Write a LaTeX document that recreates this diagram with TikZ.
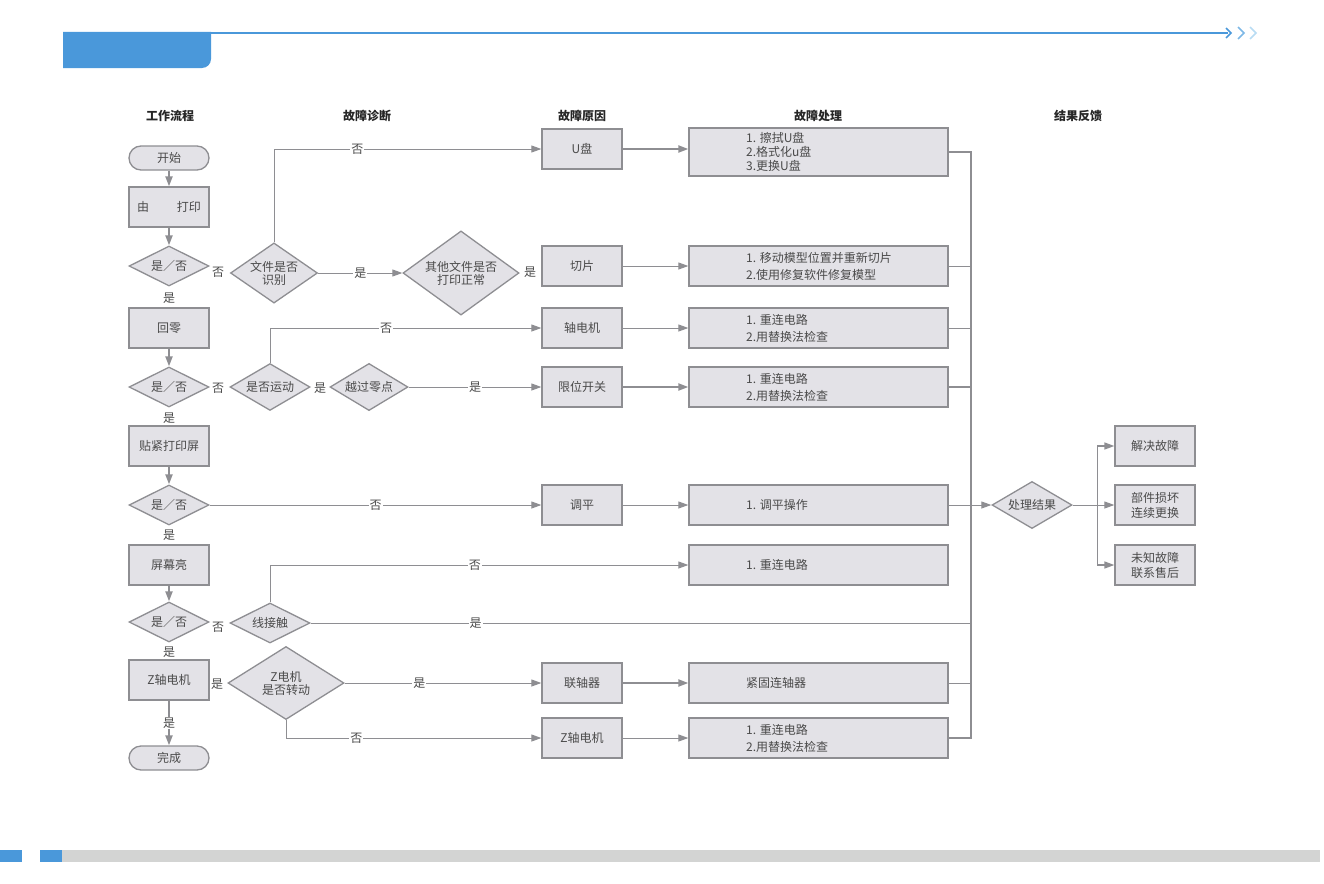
\documentclass[tikz,border=0pt]{standalone}
\usepackage{fontspec}
\setmainfont{Noto Sans CJK SC}
\usetikzlibrary{shapes.geometric,arrows.meta}
\definecolor{bfill}{HTML}{E3E2E7}
\definecolor{bdraw}{HTML}{8E8E92}
\definecolor{txt}{HTML}{4A4A4A}
\definecolor{blueA}{HTML}{4A98DA}
\definecolor{blueB}{HTML}{7DB8E6}
\definecolor{blueC}{HTML}{B8DCF3}
\definecolor{footgray}{HTML}{D3D4D3}
\begin{document}
\begin{tikzpicture}[x=1pt,y=-1pt, font=\fontsize{12}{14}\selectfont, text=txt,
 box/.style={draw=bdraw, fill=bfill, line width=1.3pt, minimum width=80pt, minimum height=40pt, inner sep=0pt},
 term/.style={box, rounded corners=12pt, minimum height=24pt},
 dia/.style={diamond, draw=bdraw, fill=bfill, line width=1.3pt, inner sep=-3pt, align=center, font=\fontsize{12}{13}\selectfont},
 hbox/.style={box, minimum width=259pt},
 htext/.style={anchor=west, align=left, inner sep=0pt},
 conn/.style={draw=bdraw, line width=1pt},
 thk/.style={draw=bdraw, line width=2pt},
 arr/.style={conn, -{Triangle[length=10pt,width=7pt]}},
 arrt/.style={thk, -{Triangle[length=10pt,width=7pt]}},
 lbl/.style={fill=white, inner sep=1pt},
 hdr/.style={font=\bfseries\fontsize{12}{14}\selectfont, text=black!85}
]
\useasboundingbox (0,0) rectangle (1324,883);
% header
\fill[blueA] (63,32) -- (211,32) [rounded corners=9pt] -- (211,68) [sharp corners] -- (63,68) -- cycle;
\draw[blueA, line width=2.2pt] (63,33) -- (1228,33);
\draw[blueA, line width=1.5pt] (1226,28) -- (1231,33) -- (1226,38);
\draw[blueB, line width=1.5pt] (1238,27) -- (1244,33) -- (1238,39);
\draw[blueC, line width=1.5pt] (1250,27) -- (1256,33) -- (1250,39);
% footer
\fill[blueA] (0,850) rectangle (22,862);
\fill[footgray] (40,850) rectangle (1320,862);
\fill[blueA] (40,850) rectangle (62,862);
% column headers
\node[hdr] (hA) at (170,116) {工作流程};
\node[hdr] (hB) at (367,116) {故障诊断};
\node[hdr] (hC) at (582,116) {故障原因};
\node[hdr] (hD) at (818,116) {故障处理};
\node[hdr] (hE) at (1078,116) {结果反馈};
% work flow
\node[term] (start) at (169,158) {开始};
\node[box] (s1) at (169,207) {由\hspace{28pt}打印};
\node[dia, minimum width=80pt, minimum height=40pt] (d1) at (169,266) {是／否};
\node (y1) at (169,298) {是};
\node[box] (s2) at (169,328) {回零};
\node[dia, minimum width=80pt, minimum height=40pt] (d2) at (169,387) {是／否};
\node (y2) at (169,418) {是};
\node[box] (s3) at (169,446) {贴紧打印屏};
\node[dia, minimum width=80pt, minimum height=40pt] (d3) at (169,505) {是／否};
\node (y3) at (169,535) {是};
\node[box] (s4) at (169,565) {屏幕亮};
\node[dia, minimum width=80pt, minimum height=40pt] (d4) at (169,622) {是／否};
\node (y4) at (169,652) {是};
\node[box] (s5) at (169,680) {Z轴电机};
\node[term] (end) at (169,758) {完成};
\draw[arrt] (start) -- (s1);
\draw[arrt] (s1) -- (d1);
\draw[arrt] (s2) -- (d2);
\draw[arrt] (s3) -- (d3);
\draw[arrt] (s4) -- (d4);
\draw[arrt] (s5) -- node[lbl]{是} (end);
% diagnosis
\node (n1) at (218,272) {否};
\node[dia, minimum width=87pt, minimum height=54pt] (f1) at (274,273) {文件是否\\识别};
\node[dia, minimum width=116pt, minimum height=74pt] (f2) at (461,273) {其他文件是否\\打印正常};
\node (y5) at (530,272) {是};
\node (n2) at (218,388) {否};
\node[dia, minimum width=80pt, minimum height=40pt] (m1) at (270,387) {是否运动};
\node (y6) at (320,388) {是};
\node[dia, minimum width=78pt, minimum height=41pt] (m2) at (369,387) {越过零点};
\node (n3) at (218,627) {否};
\node[dia, minimum width=80pt, minimum height=40pt] (w1) at (270,623) {线接触};
\node (y7) at (217,684) {是};
\node[dia, minimum width=116pt, minimum height=73pt] (z1) at (286,683) {Z电机\\是否转动};
% causes
\node[box] (c1) at (582,149) {U盘};
\node[box] (c2) at (582,266) {切片};
\node[box] (c3) at (582,328) {轴电机};
\node[box] (c4) at (582,387) {限位开关};
\node[box] (c5) at (582,505) {调平};
\node[box] (c6) at (582,683) {联轴器};
\node[box] (c7) at (582,738) {Z轴电机};
% handling
\node[hbox, minimum height=48pt] (h1) at (818.5,152) {};
\node[htext, font=\fontsize{12}{14}\selectfont] (t1) at (746,152) {1. 擦拭U盘\\2.格式化u盘\\3.更换U盘};
\node[hbox] (h2) at (818.5,266) {};
\node[htext, font=\fontsize{12}{17}\selectfont] (t2) at (746,266) {1. 移动模型位置并重新切片\\2.使用修复软件修复模型};
\node[hbox] (h3) at (818.5,328) {};
\node[htext, font=\fontsize{12}{17}\selectfont] (t3) at (746,328) {1. 重连电路\\2.用替换法检查};
\node[hbox] (h4) at (818.5,387) {};
\node[htext, font=\fontsize{12}{17}\selectfont] (t4) at (746,387) {1. 重连电路\\2.用替换法检查};
\node[hbox] (h5) at (818.5,505) {};
\node[htext] (t5) at (746,505) {1. 调平操作};
\node[hbox] (h6) at (818.5,565) {};
\node[htext] (t6) at (746,565) {1. 重连电路};
\node[hbox] (h7) at (818.5,683) {};
\node[htext] (t7) at (746,683) {紧固连轴器};
\node[hbox] (h8) at (818.5,738) {};
\node[htext, font=\fontsize{12}{17}\selectfont] (t8) at (746,738) {1. 重连电路\\2.用替换法检查};
% result
\node[dia, minimum width=80pt, minimum height=40pt] (r0) at (1032,505) {处理结果};
\node[box] (r1) at (1155,446) {解决故障};
\node[box, align=center, font=\fontsize{12}{15}\selectfont] (r2) at (1155,505) {部件损坏\\连续更换};
\node[box, align=center, font=\fontsize{12}{15}\selectfont] (r3) at (1155,565) {未知故障\\联系售后};
\coordinate (ct) at (971,152);
% diagnosis connectors
\draw[arr] (f1.north) |- node[lbl, pos=0.656]{否} (c1.west);
\draw[arr] (f1.east) -- node[lbl]{是} (f2.west);
\draw[arr] (m1.north) |- node[lbl, pos=0.714]{否} (c3.west);
\draw[arr] (m2.east) -- node[lbl]{是} (c4.west);
\draw[arr] (d3.east) -- node[lbl]{否} (c5.west);
\draw[arr] (w1.north) |- node[lbl, pos=0.745]{否} (h6.west);
\draw[conn] (w1.east) -- node[lbl, pos=0.25]{是} (w1.east -| ct);
\draw[arr] (z1.east) -- node[lbl, pos=0.38]{是} (c6.west);
\draw[arr] (z1.south) |- node[lbl, pos=0.638]{否} (c7.west);
% cause -> handling
\draw[arrt] (c1.east) -- (c1.east -| h1.west);
\draw[arr] (c2) -- (h2);
\draw[arr] (c3) -- (h3);
\draw[arrt] (c4) -- (h4);
\draw[arr] (c5) -- (h5);
\draw[arrt] (c6) -- (h7);
\draw[arr] (c7) -- (h8);
% collector
\draw[thk] (h1.east) -- (ct) -- (ct |- h8.east) -- (h8.east);
\draw[conn] (h2.east) -- (h2.east -| ct);
\draw[conn] (h3.east) -- (h3.east -| ct);
\draw[thk] (h4.east) -- (h4.east -| ct);
\draw[conn] (h7.east) -- (h7.east -| ct);
\draw[arr] (h5.east) -- (r0.west);
% result branches
\draw[conn] (r0.east) -- ++(25,0) coordinate (rb);
\draw[arr, line width=1.5pt] (rb) |- (r1.west);
\draw[arr, line width=1.5pt] (rb) |- (r3.west);
\draw[arr] (rb) -- (r2.west);
\end{tikzpicture}
\end{document}
